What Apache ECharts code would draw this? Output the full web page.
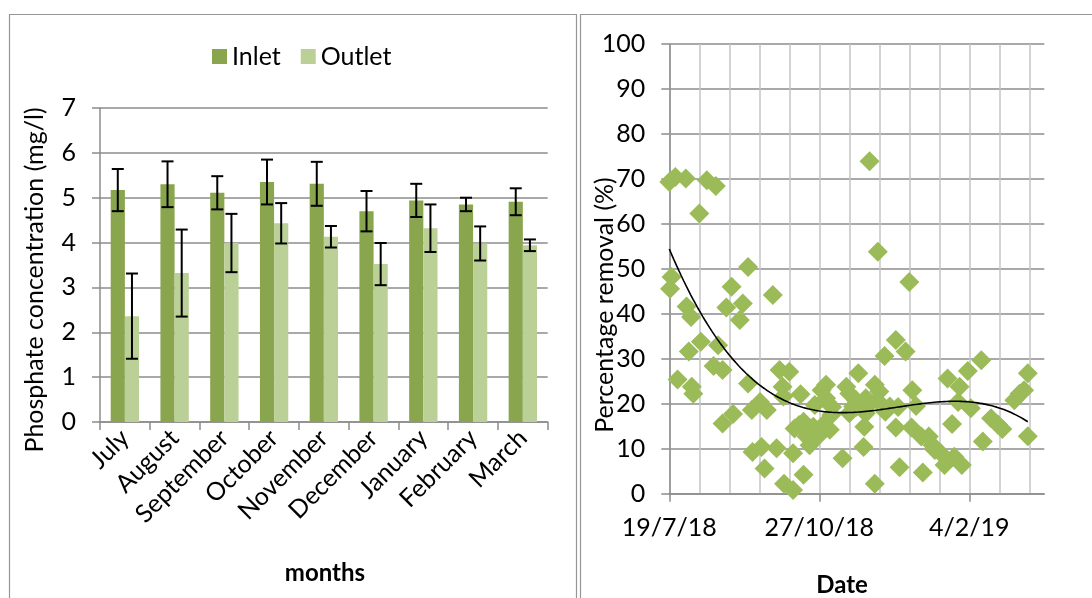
<!DOCTYPE html>
<html>
<head>
<meta charset="utf-8">
<script src="https://cdn.jsdelivr.net/npm/echarts@6/dist/echarts.min.js"></script>
<style>
  html, body { margin: 0; padding: 0; background: #fff; }
  #chart { width: 1092px; height: 598px; }
</style>
</head>
<body>
<div id="chart"></div>
<script>
// Monthly phosphate concentration (mean ± SD), inlet vs outlet
const months = ['July', 'August', 'September', 'October', 'November', 'December', 'January', 'February', 'March'];
const inletMean  = [5.17, 5.30, 5.11, 5.35, 5.31, 4.70, 4.94, 4.85, 4.91];
const inletSD    = [0.47, 0.51, 0.37, 0.50, 0.49, 0.45, 0.37, 0.15, 0.30];
const outletMean = [2.36, 3.32, 3.99, 4.43, 4.13, 3.52, 4.32, 3.98, 3.94];
const outletSD   = [0.95, 0.97, 0.65, 0.45, 0.24, 0.47, 0.53, 0.38, 0.13];

// Phosphate removal per sample: days since the first sampling date, and removal (%)
const firstSampleDate = Date.UTC(2018, 6, 19);
const sampleDay = [
  0, 4, 11, 25, 31, 20, 133.5, 139, 160, 1.5, 0.5, 52.5, 41.5, 69,
  11.5, 14.5, 13, 21, 5.5, 15, 16, 32.5, 29.5, 35.5, 38, 49, 47, 35.5, 42.5, 52.5,
  55, 60.5, 65, 55.5, 61.5, 63.5, 71.5, 73.5, 80, 75.5, 76, 76.5, 82.5, 82.5, 89.5,
  87.5, 83.5, 89.5, 91.5, 93.5, 96, 97, 99, 102.5, 101.5, 104.5, 104.5, 108, 107, 108.5,
  115.5, 118, 120, 120, 126, 124.5, 124.5, 130, 129.5, 131, 133.5, 137, 137, 140, 138.5,
  143.5, 144, 151, 157.5, 152.5, 151, 153.5, 162, 164.5, 161.5, 168, 169, 173, 175.5,
  181, 183.5, 185.5, 188.5, 190, 195, 193.5, 192.5, 201, 199, 208, 209, 214.5, 219,
  222, 230, 233.5, 236.5, 239, 239, 177, 147, 131, 122.5, 86.5
];
const removalPct = [
  69.3, 70.4, 70.1, 69.7, 68.4, 62.3, 73.9, 53.8, 47.1, 48.2, 45.6, 50.4, 46.0, 44.2,
  41.6, 39.3, 31.6, 33.8, 25.4, 23.8, 22.2, 33.0, 28.4, 27.5, 41.4, 42.3, 38.6, 15.6, 17.7, 24.5,
  18.6, 20.4, 18.6, 9.3, 10.4, 5.6, 10.1, 27.5, 27.1, 23.8, 21.6, 2.2, 0.8, 9.0, 4.2,
  22.1, 14.5, 16.0, 12.7, 10.8, 14.9, 19.7, 12.7, 15.3, 23.0, 24.2, 21.2, 17.5, 14.2, 19.3,
  7.9, 23.8, 17.9, 22.3, 26.8, 20.8, 19.3, 14.9, 10.4, 17.9, 20.0, 2.2, 24.2, 22.7, 20.8,
  30.6, 18.2, 34.2, 31.6, 19.3, 14.7, 5.9, 23.0, 19.5, 14.7, 12.7, 4.7, 12.7, 10.8,
  9.0, 6.4, 25.6, 15.5, 8.2, 6.4, 23.8, 20.4, 19.0, 27.3, 29.7, 11.6, 16.8, 15.4,
  14.4, 20.8, 22.2, 23.0, 26.8, 12.8, 9.7, 19.4, 21.2, 19.4, 15.3
];
const dateTickDays = [0, 100, 200];

const FONT = 'Lato, "Liberation Sans", sans-serif';
const FS = 25;
const GRID_DARK = '#8c8c8c';
const GRID_LIGHT = '#c4c4c4';

function dayLabel(d) {
  const t = new Date(firstSampleDate + d * 86400000);
  return t.getUTCDate() + '/' + (t.getUTCMonth() + 1) + '/' + String(t.getUTCFullYear()).slice(2);
}

// Least-squares polynomial trend line (order 3) through the removal samples
function polyFit(xs, ys, deg) {
  const n = deg + 1;
  const A = Array.from({ length: n }, () => new Array(n + 1).fill(0));
  xs.forEach((x, k) => {
    const p = [];
    for (let i = 0; i < n; i++) p.push(Math.pow(x, i));
    for (let i = 0; i < n; i++) {
      for (let j = 0; j < n; j++) A[i][j] += p[i] * p[j];
      A[i][n] += p[i] * ys[k];
    }
  });
  for (let c = 0; c < n; c++) {
    let piv = c;
    for (let r = c + 1; r < n; r++) if (Math.abs(A[r][c]) > Math.abs(A[piv][c])) piv = r;
    [A[c], A[piv]] = [A[piv], A[c]];
    for (let r = 0; r < n; r++) {
      if (r === c) continue;
      const f = A[r][c] / A[c][c];
      for (let k = c; k <= n; k++) A[r][k] -= f * A[c][k];
    }
  }
  return A.map((row, i) => row[n] / row[i]);
}
const scaledDays = sampleDay.map(d => d / 100);
const coef = polyFit(scaledDays, removalPct, 3);
const dMin = Math.min(...sampleDay), dMax = Math.max(...sampleDay);
const trend = [];
for (let k = 0; k <= 150; k++) {
  const d = dMin + (dMax - dMin) * k / 150;
  const s = d / 100;
  trend.push([d, coef.reduce((acc, c, i) => acc + c * Math.pow(s, i), 0)]);
}

const GAP = 0.43;
function errorBars(means, sds, side) {
  return {
    type: 'custom',
    xAxisIndex: 0, yAxisIndex: 0, z: 5,
    data: means.map((m, i) => [i, m, sds[i]]),
    renderItem(params, api) {
      const i = api.value(0), m = api.value(1), e = api.value(2);
      const band = api.size([1, 0])[0];
      const barW = band * (1 - GAP) / 2;
      const top = api.coord([i, m + e]);
      const bot = api.coord([i, m - e]);
      const x = top[0] + side * barW / 2;
      const cap = 6;
      const style = { stroke: '#000', lineWidth: 2 };
      return {
        type: 'group',
        children: [
          { type: 'line', shape: { x1: x, y1: top[1], x2: x, y2: bot[1] }, style },
          { type: 'line', shape: { x1: x - cap, y1: top[1], x2: x + cap, y2: top[1] }, style },
          { type: 'line', shape: { x1: x - cap, y1: bot[1], x2: x + cap, y2: bot[1] }, style }
        ]
      };
    }
  };
}

const chart = echarts.init(document.getElementById('chart'), null, { renderer: 'canvas' });
const tick = { color: '#000', fontSize: FS, fontFamily: FONT };

chart.setOption({
  animation: false,
  textStyle: { fontFamily: FONT },
  legend: {
    data: ['Inlet', 'Outlet'],
    left: 207, top: 39,
    icon: 'rect', itemWidth: 15, itemHeight: 15, itemGap: 20,
    selectedMode: false,
    textStyle: { fontSize: FS, color: '#000', fontFamily: FONT }
  },
  grid: [
    { left: 100, top: 108, width: 447.7, height: 314 },
    { left: 669.3, top: 44, width: 375, height: 449.7 },
    { left: 669.3, top: 44, width: 360, height: 449.7 }
  ],
  xAxis: [
    {
      gridIndex: 0, type: 'category', data: months,
      axisLine: { lineStyle: { color: GRID_DARK, width: 1.5 } },
      axisTick: { show: true, length: 8, lineStyle: { color: GRID_DARK, width: 1.5 } },
      axisLabel: { ...tick, rotate: 45, margin: 12 }
    },
    {
      gridIndex: 1, type: 'value', min: 0, max: 250, interval: 100,
      axisLine: { onZero: false, lineStyle: { color: GRID_DARK, width: 1.5 } },
      axisTick: { show: true, length: 8, customValues: dateTickDays, lineStyle: { color: GRID_DARK, width: 1.5 } },
      axisLabel: { ...tick, margin: 22, customValues: dateTickDays,
        formatter: v => (v % 100 === 0 ? dayLabel(v) : '') },
      splitLine: { show: false }
    },
    {
      gridIndex: 2, type: 'value', min: 0, max: 240, interval: 20,
      axisLine: { show: false }, axisTick: { show: false }, axisLabel: { show: false },
      splitLine: { show: true, lineStyle: { color: GRID_LIGHT, width: 1.5 } }
    }
  ],
  yAxis: [
    {
      gridIndex: 0, type: 'value', min: 0, max: 7, interval: 1,
      axisLine: { show: true, lineStyle: { color: GRID_DARK, width: 1.5 } },
      axisTick: { show: true, length: 8, lineStyle: { color: GRID_DARK, width: 1.5 } },
      axisLabel: { ...tick, margin: 24 },
      splitLine: { show: true, lineStyle: { color: GRID_DARK, width: 1.5 } }
    },
    {
      gridIndex: 1, type: 'value', min: 0, max: 100, interval: 10,
      axisLine: { show: true, lineStyle: { color: GRID_DARK, width: 1.5 } },
      axisTick: { show: true, length: 8, lineStyle: { color: GRID_DARK, width: 1.5 } },
      axisLabel: { ...tick, margin: 24 },
      splitLine: { show: true, lineStyle: { color: GRID_DARK, width: 1.5 } }
    },
    { gridIndex: 2, type: 'value', min: 0, max: 100, show: false }
  ],
  series: [
    {
      name: 'Inlet', type: 'bar', xAxisIndex: 0, yAxisIndex: 0,
      data: inletMean, barGap: '0%', barCategoryGap: (GAP * 100) + '%',
      itemStyle: { color: '#89a54e' }
    },
    {
      name: 'Outlet', type: 'bar', xAxisIndex: 0, yAxisIndex: 0,
      data: outletMean, barGap: '0%', barCategoryGap: (GAP * 100) + '%',
      itemStyle: { color: '#bbd096' }
    },
    errorBars(inletMean, inletSD, -1),
    errorBars(outletMean, outletSD, 1),
    {
      type: 'scatter', xAxisIndex: 1, yAxisIndex: 1,
      symbol: 'diamond', symbolSize: 20,
      data: sampleDay.map((d, i) => [d, removalPct[i]]),
      itemStyle: { color: '#9bbb59', opacity: 1 }
    },
    {
      type: 'line', xAxisIndex: 1, yAxisIndex: 1, z: 4,
      data: trend, showSymbol: false, smooth: false,
      lineStyle: { color: '#000', width: 1.6 }
    }
  ],
  graphic: [
    { type: 'rect', silent: true, z: -1, shape: { x: 9.5, y: 14.5, width: 567, height: 620 },
      style: { fill: 'none', stroke: '#969696', lineWidth: 1.2 } },
    { type: 'rect', silent: true, z: -1, shape: { x: 580.5, y: 14.5, width: 620, height: 620 },
      style: { fill: 'none', stroke: '#969696', lineWidth: 1.2 } },
    { type: 'text', x: 35, y: 280, rotation: Math.PI / 2,
      style: { text: 'Phosphate concentration (mg/l)', fontSize: FS, fontFamily: FONT, fill: '#000',
        align: 'center', verticalAlign: 'middle' } },
    { type: 'text', x: 325, y: 573,
      style: { text: 'months', fontSize: FS - 1, fontWeight: 'bold', fontFamily: FONT, fill: '#000',
        align: 'center', verticalAlign: 'middle' } },
    { type: 'text', x: 605, y: 305, rotation: Math.PI / 2,
      style: { text: 'Percentage removal (%)', fontSize: FS, fontFamily: FONT, fill: '#000',
        align: 'center', verticalAlign: 'middle' } },
    { type: 'text', x: 842, y: 585,
      style: { text: 'Date', fontSize: FS - 1, fontWeight: 'bold', fontFamily: FONT, fill: '#000',
        align: 'center', verticalAlign: 'middle' } }
  ]
});
</script>
</body>
</html>
